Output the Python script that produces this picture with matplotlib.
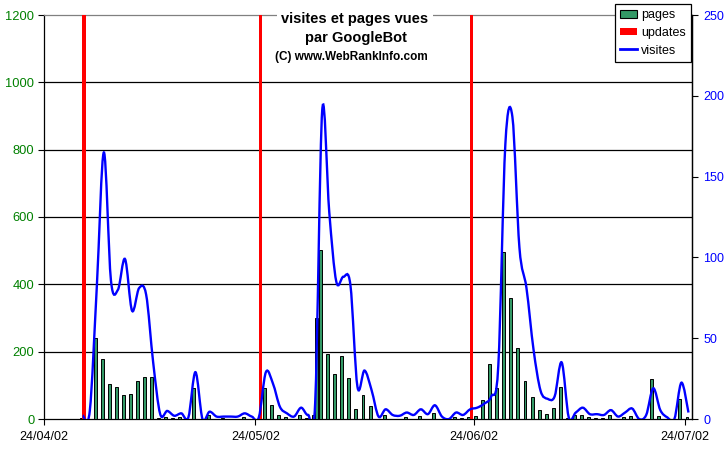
import numpy as np
import matplotlib
matplotlib.use("Agg")
import matplotlib.pyplot as plt
from matplotlib.path import Path
from matplotlib.patches import PathPatch, Patch
from matplotlib.lines import Line2D

plt.rcParams['font.family'] = ['Liberation Sans', 'DejaVu Sans']

# ---- data (day index 0 = 24/04/02) ----
days = np.arange(92)
pages = [0, 0, 0, 0, 0, 3, 0, 240, 178, 104,
         95, 71, 74, 113, 125, 125, 2, 7, 2, 7,
         4, 92, 0, 12, 0, 3, 0, 0, 7, 0,
         0, 92, 41, 12, 6, 0, 12, 3, 12, 502,
         193, 134, 187, 122, 29, 71, 39, 0, 12, 1,
         1, 6, 1, 8, 1, 17, 0, 0, 6, 2,
         6, 8, 56, 163, 91, 497, 358, 210, 113, 64,
         26, 15, 32, 94, 3, 12, 12, 6, 3, 4,
         12, 0, 6, 9, 0, 0, 118, 9, 0, 0,
         58, 6]
extra_pages_day = [38]
extra_pages_val = [300]

update_days = [5, 30, 60]
update_vals = [1200, 1200, 1200]

visites_days = np.arange(5, 92)
visites = [2, 5, 82, 165, 86, 80, 99, 67, 81, 77,
           35, 3, 5, 2, 3.5, 1, 29, 0, 4.5, 1.5,
           1.5, 1.5, 1.5, 3.5, 1.5, 1, 29, 22, 7.5, 3.5,
           1.5, 7, 2.5, 10, 191, 128, 85, 88, 83, 20,
           30, 18, 1.5, 6, 2.5, 2, 4, 2.5, 6, 3,
           8.5, 1.5, 0, 4, 2.5, 6, 7, 9.5, 14, 33,
           170, 187, 106, 81, 43, 17.5, 12.5, 14, 35, 1,
           4, 7, 3, 3, 2.5, 5.5, 1.5, 4, 6.5, 0,
           2.5, 19, 5.5, 1, 0, 22.5, 4]

xtick_days = [0, 30, 61, 91]
xtick_labels = ["24/04/02", "24/05/02", "24/06/02", "24/07/02"]
left_ticks = [0, 200, 400, 600, 800, 1000, 1200]
right_ticks = [0, 50, 100, 150, 200, 250]

# ---- figure ----
W, H = 728, 453
fig = plt.figure(figsize=(W / 100, H / 100), dpi=100)
fig.patch.set_facecolor('white')
ax = fig.add_axes([44 / W, 1 - 419 / H, (692 - 44) / W, (419 - 15) / H])
ax.set_xlim(0, 92)
ax.set_ylim(0, 1200)

green = '#339966'
bw = 0.42
ax.bar(days + 0.5 - bw / 2, pages, width=bw, color=green, edgecolor='black',
       linewidth=0.7, zorder=3)
ax.bar(np.array(extra_pages_day) + 0.5 + bw / 2, extra_pages_val, width=bw,
       color=green, edgecolor='black', linewidth=0.7, zorder=3)
ax.bar(np.array(update_days) + 0.5 + bw / 2, update_vals, width=0.5,
       color='#FF0000', edgecolor='none', zorder=4)

ax.set_yticks(left_ticks)
ax.set_yticklabels([str(t) for t in left_ticks], color='#008000', fontsize=9.3)
ax.set_xticks(xtick_days)
ax.set_xticklabels(xtick_labels, fontsize=9)
ax.tick_params(axis='y', direction='out', length=4, width=0.8, pad=3)
ax.tick_params(axis='x', direction='out', length=4, width=0.8, pad=5)
ax.yaxis.grid(True, color='black', linewidth=0.9)
ax.set_axisbelow(True)
gl = ax.get_ygridlines()
gl[0].set_visible(False)
gl[-1].set_visible(False)
for s in ['left', 'bottom', 'right']:
    ax.spines[s].set_color('black')
    ax.spines[s].set_linewidth(0.9)
ax.spines['top'].set_color('#808080')
ax.spines['top'].set_linewidth(0.9)

# right axis: visites
ax2 = ax.twinx()
ax2.set_ylim(0, 250)
ax2.set_yticks(right_ticks)
ax2.set_yticklabels([str(t) for t in right_ticks], color='#0000FF', fontsize=9)
ax2.tick_params(axis='y', direction='out', length=4, width=0.8, pad=4)
for s in ax2.spines.values():
    s.set_visible(False)
ax2.spines['right'].set_visible(True)
ax2.spines['right'].set_color('black')
ax2.spines['right'].set_linewidth(0.9)

xs = np.asarray(visites_days, dtype=float) + 0.5
ys = np.asarray(visites, dtype=float)
pts = np.column_stack([xs, ys])
n = len(pts)
verts = [tuple(pts[0])]
codes = [Path.MOVETO]
for i in range(n - 1):
    p0 = pts[i - 1] if i > 0 else pts[i]
    p1 = pts[i]
    p2 = pts[i + 1]
    p3 = pts[i + 2] if i + 2 < n else pts[i + 1]
    c1 = p1 + (p2 - p0) / 6.0
    c2 = p2 - (p3 - p1) / 6.0
    verts += [tuple(c1), tuple(c2), tuple(p2)]
    codes += [Path.CURVE4] * 3
ax2.add_patch(PathPatch(Path(verts, codes), fill=False, edgecolor='#0000FF',
                        linewidth=1.7, zorder=5))

# title
fig.text(355 / W, 1 - 19 / H, "visites et pages vues", ha='center', va='center',
         fontsize=10.5, fontweight='bold',
         bbox=dict(facecolor='white', edgecolor='none', pad=3))
fig.text(356 / W, 1 - 38 / H, "par GoogleBot", ha='center', va='center',
         fontsize=10.5, fontweight='bold')
fig.text(351 / W, 1 - 57 / H, "(C) www.WebRankInfo.com", ha='center', va='center',
         fontsize=8.5, fontweight='bold')

# legend
handles = [Patch(facecolor=green, edgecolor='black', linewidth=0.8),
           Patch(facecolor='#FF0000', edgecolor='none'),
           Line2D([0], [0], color='#0000FF', linewidth=2)]
leg = fig.legend(handles, ['pages', 'updates', 'visites'], loc='upper right',
                 bbox_to_anchor=(691 / W, 1 - 4 / H), fontsize=9,
                 frameon=True, fancybox=False, framealpha=1, edgecolor='black',
                 borderpad=0.42, handlelength=1.4, handleheight=0.56,
                 handletextpad=0.3, labelspacing=0.45, borderaxespad=0)
leg.get_frame().set_linewidth(0.9)

fig.savefig('out.png', dpi=100, facecolor='white')
